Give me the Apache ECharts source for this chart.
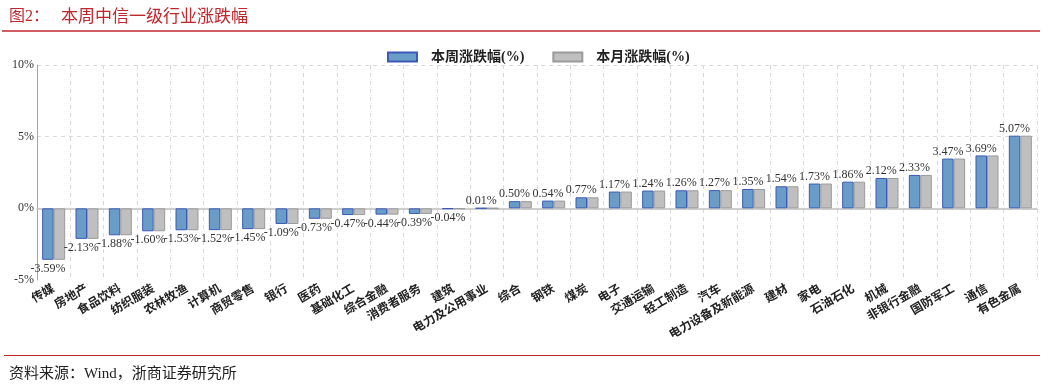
<!DOCTYPE html>
<html>
<head>
<meta charset="utf-8">
<script src="https://cdn.jsdelivr.net/npm/echarts@6/dist/echarts.min.js"></script>
<style>
html,body{margin:0;padding:0;background:#fff;}
#chart{width:1057px;height:385px;}
</style>
</head>
<body>
<div id="chart"></div>
<script>
const categories = ['传媒','房地产','食品饮料','纺织服装','农林牧渔','计算机','商贸零售','银行','医药','基础化工','综合金融','消费者服务','建筑','电力及公用事业','综合','钢铁','煤炭','电子','交通运输','轻工制造','汽车','电力设备及新能源','建材','家电','石油石化','机械','非银行金融','国防军工','通信','有色金属'];
const weeklyChange = [-3.59,-2.13,-1.88,-1.60,-1.53,-1.52,-1.45,-1.09,-0.73,-0.47,-0.44,-0.39,-0.04,0.01,0.50,0.54,0.77,1.17,1.24,1.26,1.27,1.35,1.54,1.73,1.86,2.12,2.33,3.47,3.69,5.07];
const monthlyChange = [-3.59,-2.13,-1.88,-1.60,-1.53,-1.52,-1.45,-1.09,-0.73,-0.47,-0.44,-0.39,-0.04,0.01,0.50,0.54,0.77,1.17,1.24,1.26,1.27,1.35,1.54,1.73,1.86,2.12,2.33,3.47,3.69,5.07];
const yTicks = [-5, 0, 5, 10];
const seriesNames = ['本周涨跌幅(%)', '本月涨跌幅(%)'];

const serif = '"Liberation Serif","Noto Sans CJK SC",serif';
const chart = echarts.init(document.getElementById('chart'));
const option = {
  backgroundColor: '#fff',
  animation: false,
  title: [
    {text: '图2：', left: 4, top: 4, textStyle: {color: '#c0272d', fontSize: 16, fontWeight: 'normal', fontFamily: serif}},
    {text: '本周中信一级行业涨跌幅', left: 56, top: 4, textStyle: {color: '#c0272d', fontSize: 17, fontWeight: 'normal', fontFamily: serif}},
    {text: '资料来源：Wind，浙商证券研究所', left: 4, top: 362, textStyle: {color: '#222', fontSize: 15, fontWeight: 'normal', fontFamily: serif}}
  ],
  graphic: [
    {type: 'line', shape: {x1: 2, y1: 31, x2: 1040, y2: 31}, style: {stroke: '#c0272d', lineWidth: 1.5}},
    {type: 'line', shape: {x1: 4, y1: 355.5, x2: 1040, y2: 355.5}, style: {stroke: '#c0272d', lineWidth: 1}}
  ],
  legend: {
    data: seriesNames,
    icon: 'rect',
    left: 382, top: 45,
    itemWidth: 29, itemHeight: 9, itemGap: 28,
    textStyle: {fontSize: 14, fontWeight: 'bold', color: '#222', fontFamily: serif, padding: [0, 0, 0, 9]}
  },
  grid: {left: 37, right: 20, top: 65, bottom: 105},
  xAxis: [
    {
      type: 'category', data: categories, position: 'bottom',
      axisLine: {show: false, onZero: false},
      axisTick: {show: false},
      axisLabel: {rotate: 30, margin: 8, fontSize: 12, fontWeight: 'bold', color: '#222', fontFamily: serif, interval: 0},
      splitLine: {show: true, lineStyle: {color: '#d9d9d9', type: [4, 4]}}
    },
    {
      type: 'category', data: categories, position: 'bottom',
      axisLine: {show: true, onZero: true, lineStyle: {color: '#bfbfbf', width: 1.5}},
      axisTick: {show: false}, axisLabel: {show: false}, splitLine: {show: false}
    }
  ],
  yAxis: {
    type: 'value', min: yTicks[0], max: yTicks[yTicks.length - 1], interval: 5,
    axisLine: {show: true, lineStyle: {color: '#a6a6a6'}},
    axisTick: {show: false},
    axisLabel: {formatter: '{value}%', fontSize: 12, color: '#333', fontFamily: serif, margin: 3},
    splitLine: {show: true, lineStyle: {color: ['transparent', 'transparent', '#d9d9d9', '#d9d9d9'], type: [4, 4]}}
  },
  series: [
    {
      name: seriesNames[0], type: 'bar', barGap: '0%', barCategoryGap: '31%',
      itemStyle: {color: '#6a9cc8', borderColor: '#3b59b5', borderWidth: 1},
      data: weeklyChange.map(v => ({
        value: v,
        label: {show: true, position: v < 0 ? 'bottom' : 'top', distance: v < 0 ? 3 : 1,
          formatter: v.toFixed(2) + '%', fontSize: 12, color: '#333', fontFamily: serif}
      }))
    },
    {
      name: seriesNames[1], type: 'bar', barGap: '0%', barCategoryGap: '31%',
      itemStyle: {color: '#bfbfbf', borderColor: '#9a9a9a', borderWidth: 1},
      data: monthlyChange
    }
  ]
};
chart.setOption(option);
</script>
</body>
</html>
